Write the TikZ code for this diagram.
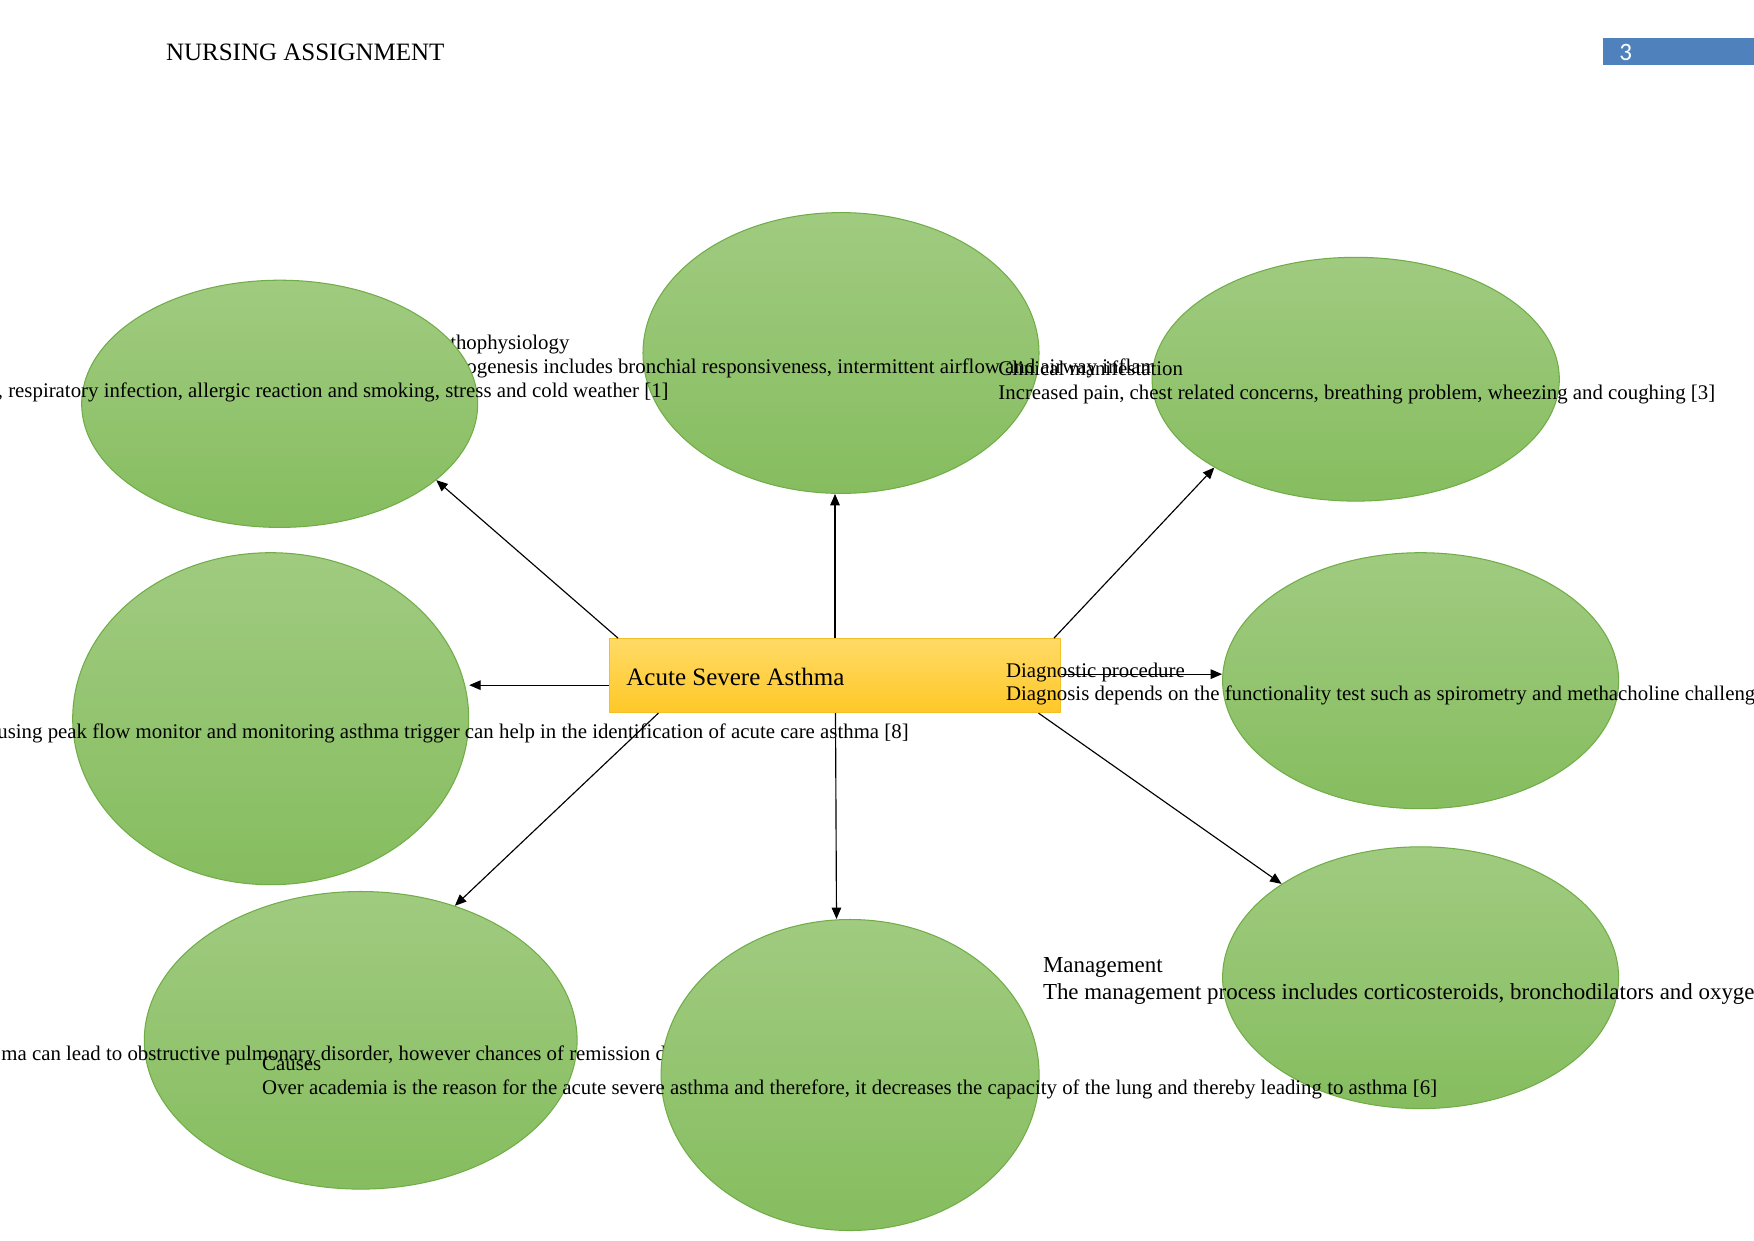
\documentclass[tikz,border=0pt]{standalone}
\usepackage{fontspec}
\setmainfont{Liberation Serif}
\newfontfamily\pagenumfont{Carlito}
\usetikzlibrary{arrows.meta,calc,shapes.geometric}
\definecolor{elltop}{RGB}{160,203,128}
\definecolor{ellbot}{RGB}{134,189,95}
\definecolor{ellborder}{RGB}{112,173,71}
\definecolor{recttop}{RGB}{255,218,102}
\definecolor{rectbot}{RGB}{255,200,40}
\definecolor{rectborder}{RGB}{244,190,40}
\definecolor{hdrblue}{RGB}{79,129,189}
\begin{document}
\begin{tikzpicture}[x=0.48pt,y=-0.48pt,
  ell/.style={ellipse, draw=ellborder, line width=0.5pt, top color=elltop, bottom color=ellbot, inner sep=0pt},
  body/.style={font=\fontsize{10}{12}\selectfont, inner sep=0pt, anchor=base west},
  bodyr/.style={font=\fontsize{10}{12}\selectfont, inner sep=0pt, anchor=base east},
  mgmt/.style={font=\fontsize{11}{13}\selectfont, inner sep=0pt, anchor=base west},
  conn/.style={-{Triangle[length=5.5pt,width=4.6pt]}, line width=0.55pt, black}]
\useasboundingbox (0,0) rectangle (1754,1241);
\fill[white] (0,0) rectangle (1754,1241);
\clip (0,0) rectangle (1754,1241);

% header
\node[font=\fontsize{12}{14}\selectfont, inner sep=0pt, anchor=base west] (hdr) at (165.6,60.5) {NURSING ASSIGNMENT};
\node[fill=hdrblue, minimum width=72.5pt, minimum height=12.96pt, inner sep=0pt, anchor=north west] (pgbox) at (1603,38) {};
\node[font=\pagenumfont\fontsize{12}{14}\selectfont, text=white, inner sep=0pt, anchor=base west] (pgnum) at (1619,60.5) {3};

% top centre
\node[ell, minimum width=190.08pt, minimum height=134.78pt] (e2) at (841,353) {};
\node[body] (t2a) at (429,349) {Pathophysiology};
\node[body] (t2b) at (429,373) {Pathogenesis includes bronchial responsiveness, intermittent airflow and airway inflammation};

% top left
\node[ell, minimum width=190.08pt, minimum height=118.66pt] (e1) at (279.7,403.8) {};
\node[bodyr] (t1) at (669,397) {, respiratory infection, allergic reaction and smoking, stress and cold weather [1]};

% top right
\node[ell, minimum width=195.46pt, minimum height=117.02pt] (e3) at (1355.7,379.2) {};
\node[body] (t3a) at (998,375) {Clinical manifestation};
\node[body] (t3b) at (998,399) {Increased pain, chest related concerns, breathing problem, wheezing and coughing [3]};

% middle left
\node[ell, minimum width=190.08pt, minimum height=159.36pt] (e4) at (270.7,718.7) {};
\node[bodyr] (t4) at (909,738.5) {using peak flow monitor and monitoring asthma trigger can help in the identification of acute care asthma [8]};

% centre
\node[draw=rectborder, line width=0.5pt, top color=recttop, bottom color=rectbot, minimum width=216.38pt, minimum height=35.47pt, inner sep=0pt] (core) at (835,675.65) {};
\node[font=\fontsize{12}{14}\selectfont, inner sep=0pt, anchor=base west] (coretxt) at (626,685) {Acute Severe Asthma};

% middle right
\node[ell, minimum width=190.08pt, minimum height=122.88pt] (e5) at (1420.6,680.7) {};
\node[body] (t5a) at (1005.6,677) {Diagnostic procedure};
\node[body] (t5b) at (1005.6,700.5) {Diagnosis depends on the functionality test such as spirometry and methacholine challenge};

% bottom right
\node[ell, minimum width=190.08pt, minimum height=125.66pt] (e6) at (1420.6,977.7) {};
\node[mgmt] (t6a) at (1042.6,972.5) {Management};
\node[mgmt] (t6b) at (1042.6,999.5) {The management process includes corticosteroids, bronchodilators and oxygen};

% bottom left
\node[ell, minimum width=207.74pt, minimum height=142.85pt] (e8) at (360.7,1040.3) {};
\node[body] (t8) at (1,1060.5) {ma can lead to obstructive pulmonary disorder, however chances of remission d};

% bottom centre
\node[ell, minimum width=181.44pt, minimum height=149.28pt] (e7) at (850.1,1075) {};
\node[body] (t7a) at (261.8,1070.5) {Causes};
\node[body] (t7b) at (261.8,1094.5) {Over academia is the reason for the acute severe asthma and therefore, it decreases the capacity of the lung and thereby leading to asthma [6]};

% connectors
\draw[conn] ($(core.north west)+(9,0)$) -- (e1.-26.7);
\draw[conn] (core.north) -- (core.north |- e2.south);
\draw[conn] ($(core.north east)+(-7,0)$) -- (e3.-148.4);
\draw[conn] ($(core.east)+(0,-1.5)$) -- ($(core.east -| e5.west)+(0,-1.5)$);
\draw[conn] ($(core.west)+(0,9.5)$) -- ($(core.west -| e4.east)+(0,9.5)$);
\draw[conn] ($(core.south west)+(49.3,0)$) -- (e8.55.9);
\draw[conn] ($(core.south)+(0.5,0)$) -- ($(core.south |- e7.north)+(1.5,0)$);
\draw[conn] ($(core.south east)+(-22.4,0)$) -- (e6.146.1);
\end{tikzpicture}
\end{document}
